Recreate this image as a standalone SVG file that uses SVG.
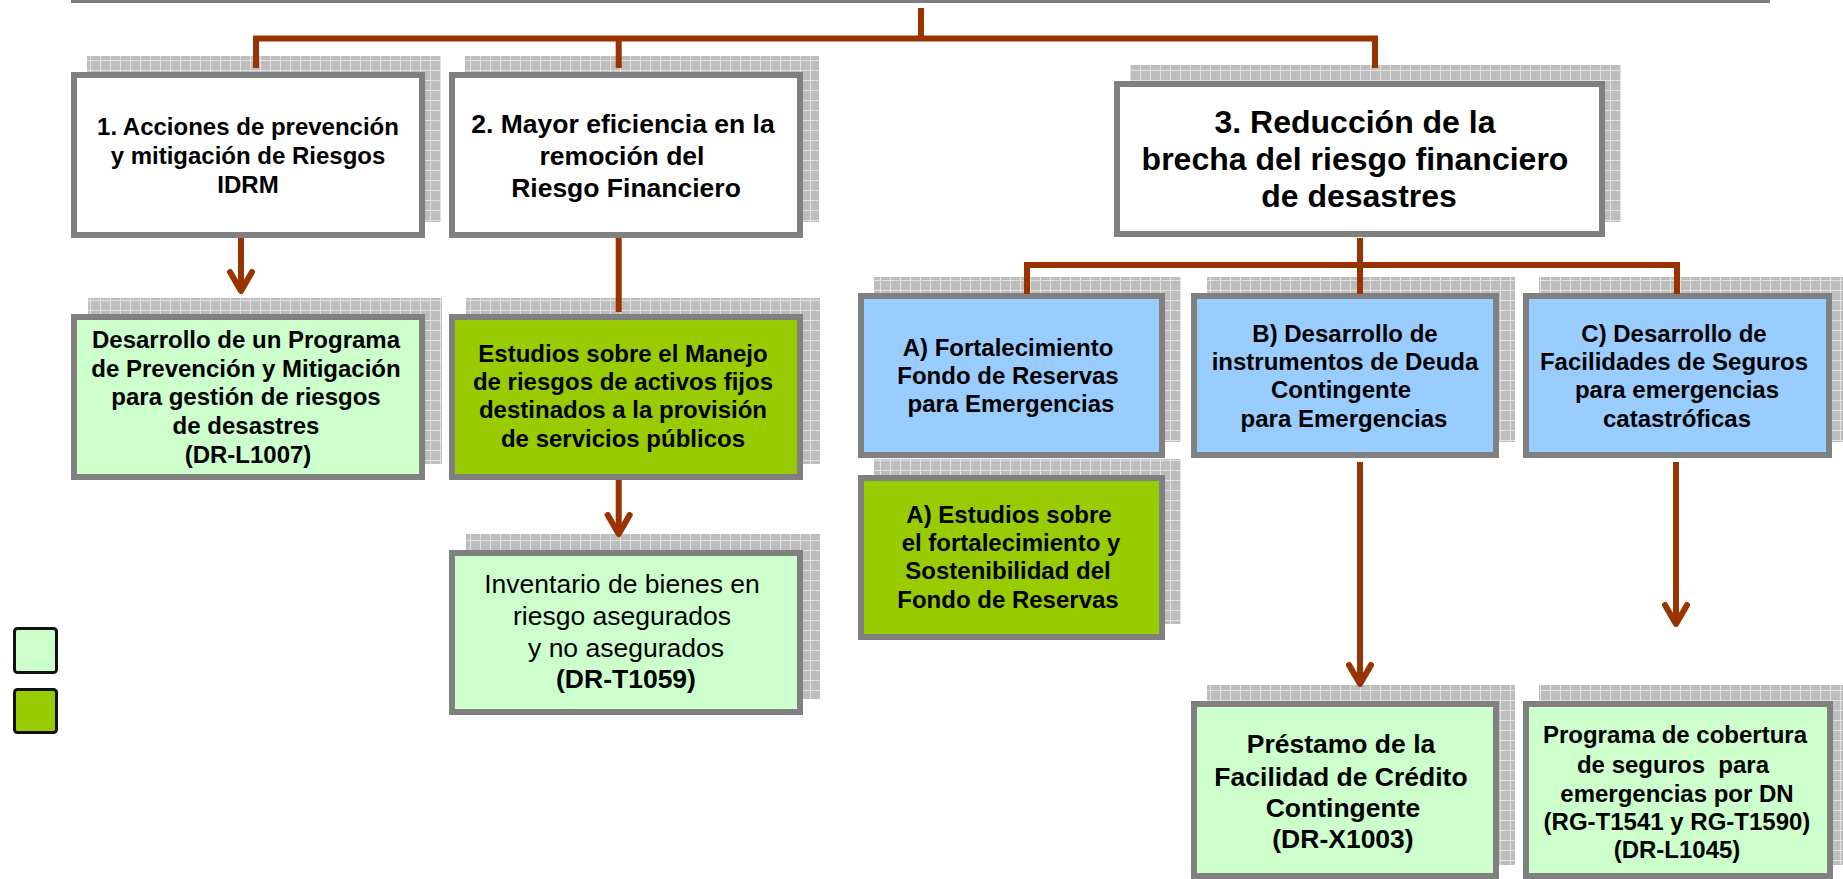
<svg xmlns="http://www.w3.org/2000/svg" width="1843" height="879" viewBox="0 0 1843 879">
<style>
.box{stroke:#808080;stroke-width:6}
.white{fill:#ffffff}
.lg{fill:#ccffcc}
.dg{fill:#99cc00}
.bl{fill:#99ccff}
.sh{fill:url(#grid)}
text{font-family:"Liberation Sans",Arial,sans-serif;fill:#000;text-anchor:middle}
.b24{font-size:24px;font-weight:bold}
.b26{font-size:26.5px;font-weight:bold}
.r26{font-size:26.5px}
.b32{font-size:32px;font-weight:bold}
.con{fill:none;stroke:#993300;stroke-width:6}
.arr{marker-end:url(#ah)}
.leg{stroke:#111;stroke-width:3}
</style>
<defs>
<pattern id="grid" patternUnits="userSpaceOnUse" width="10" height="10">
<rect width="10" height="10" fill="#bdbdbd"/>
<path d="M0,0.5H10M0.5,0V10" stroke="#e2e2e2" stroke-width="1"/>
</pattern>
<marker id="ah" markerUnits="userSpaceOnUse" viewBox="-26 -16 32 32" refX="0" refY="0" markerWidth="32" markerHeight="32" orient="auto">
<path d="M-19,-11 L0,0 L-19,11" fill="none" stroke="#993300" stroke-width="6" stroke-linecap="round" stroke-linejoin="round"/>
</marker>
</defs>
<rect x="71" y="0" width="1699" height="3" fill="#808080"/>

<g id="n1">
<rect class="sh" x="87" y="56" width="354" height="166"/>
<rect class="box white" x="74" y="75" width="348" height="160"/>
<text class="b24" x="248" y="135">1. Acciones de prevención</text>
<text class="b24" x="248" y="164">y mitigación de Riesgos</text>
<text class="b24" x="248" y="193">IDRM</text>
</g>
<g id="n2">
<rect class="sh" x="465" y="56" width="354" height="166"/>
<rect class="box white" x="452" y="75" width="348" height="160"/>
<text class="b26" x="623" y="133">2. Mayor eficiencia en la</text>
<text class="b26" x="622" y="165">remoción del</text>
<text class="b26" x="626" y="197">Riesgo Financiero</text>
</g>
<g id="n3">
<rect class="sh" x="1130" y="65" width="491" height="157"/>
<rect class="box white" x="1117" y="84" width="485" height="150"/>
<text class="b32" x="1355" y="133">3. Reducción de la</text>
<text class="b32" x="1355" y="170">brecha del riesgo financiero</text>
<text class="b32" x="1359" y="207">de desastres</text>
</g>
<g id="n4">
<rect class="sh" x="88" y="298" width="354" height="166"/>
<rect class="box lg" x="74" y="317" width="348" height="160"/>
<text class="b24" x="246" y="348">Desarrollo de un Programa</text>
<text class="b24" x="246" y="377">de Prevención y Mitigación</text>
<text class="b24" x="246" y="405">para gestión de riesgos</text>
<text class="b24" x="246" y="434">de desastres</text>
<text class="b24" x="248" y="463">(DR-L1007)</text>
</g>
<g id="n5">
<rect class="sh" x="466" y="298" width="354" height="166"/>
<rect class="box dg" x="452" y="317" width="348" height="160"/>
<text class="b24" x="623" y="362">Estudios sobre el Manejo</text>
<text class="b24" x="623" y="390">de riesgos de activos fijos</text>
<text class="b24" x="623" y="418">destinados a la provisión</text>
<text class="b24" x="623" y="447">de servicios públicos</text>
</g>
<g id="n6">
<rect class="sh" x="466" y="534" width="354" height="165"/>
<rect class="box lg" x="452" y="553" width="348" height="159"/>
<text class="r26" x="622" y="593">Inventario de bienes en</text>
<text class="r26" x="622" y="625">riesgo asegurados</text>
<text class="r26" x="626" y="657">y no asegurados</text>
<text class="b26" x="626" y="688">(DR-T1059)</text>
</g>
<g id="nA">
<rect class="sh" x="874" y="277" width="307" height="165"/>
<rect class="box bl" x="861" y="296" width="301" height="159"/>
<text class="b24" x="1008" y="356">A) Fortalecimiento</text>
<text class="b24" x="1008" y="384">Fondo de Reservas</text>
<text class="b24" x="1011" y="412">para Emergencias</text>
</g>
<g id="nB">
<rect class="sh" x="1207" y="277" width="308" height="165"/>
<rect class="box bl" x="1194" y="296" width="302" height="159"/>
<text class="b24" x="1345" y="342">B) Desarrollo de</text>
<text class="b24" x="1345" y="370">instrumentos de Deuda</text>
<text class="b24" x="1341" y="398">Contingente</text>
<text class="b24" x="1344" y="427">para Emergencias</text>
</g>
<g id="nC">
<rect class="sh" x="1539" y="277" width="310" height="165"/>
<rect class="box bl" x="1526" y="296" width="303" height="159"/>
<text class="b24" x="1674" y="342">C) Desarrollo de</text>
<text class="b24" x="1674" y="370">Facilidades de Seguros</text>
<text class="b24" x="1677" y="398">para emergencias</text>
<text class="b24" x="1677" y="427">catastróficas</text>
</g>
<g id="nA2">
<rect class="sh" x="874" y="459" width="307" height="165"/>
<rect class="box dg" x="861" y="478" width="301" height="159"/>
<text class="b24" x="1009" y="523">A) Estudios sobre</text>
<text class="b24" x="1011" y="551">el fortalecimiento y</text>
<text class="b24" x="1008" y="579">Sostenibilidad del</text>
<text class="b24" x="1008" y="608">Fondo de Reservas</text>
</g>
<g id="nD">
<rect class="sh" x="1207" y="685" width="308" height="180"/>
<rect class="box lg" x="1194" y="704" width="302" height="172"/>
<text class="b26" x="1341" y="753">Préstamo de la</text>
<text class="b26" x="1341" y="786">Facilidad de Crédito</text>
<text class="b26" x="1343" y="817">Contingente</text>
<text class="b26" x="1343" y="848">(DR-X1003)</text>
</g>
<g id="nE">
<rect class="sh" x="1539" y="685" width="310" height="180"/>
<rect class="box lg" x="1526" y="704" width="304" height="172"/>
<text class="b24" x="1675" y="743">Programa de cobertura</text>
<text class="b24" x="1673" y="773" xml:space="preserve">de seguros  para</text>
<text class="b24" x="1677" y="802">emergencias por DN</text>
<text class="b24" x="1677" y="830">(RG-T1541 y RG-T1590)</text>
<text class="b24" x="1677" y="858">(DR-L1045)</text>
</g>
<g id="legend">
<rect class="leg lg" x="14.5" y="628.5" width="42" height="44" rx="3"/>
<rect class="leg dg" x="14.5" y="689.5" width="42" height="43" rx="3"/>
</g>

<g id="connectors">
<path class="con" d="M921,8V38.5"/>
<path class="con" d="M256,68V38.5H1375V68"/>
<path class="con" d="M618.7,38.5V68"/>
<path class="con" d="M618.7,238V312"/>
<path class="con" d="M1360,238V294"/>
<path class="con" d="M1027,294V265H1677V294"/>
<path class="con arr" d="M241,238V291"/>
<path class="con arr" d="M618.7,480V534"/>
<path class="con arr" d="M1360,462V684"/>
<path class="con arr" d="M1676,462V624"/>
</g>
</svg>
